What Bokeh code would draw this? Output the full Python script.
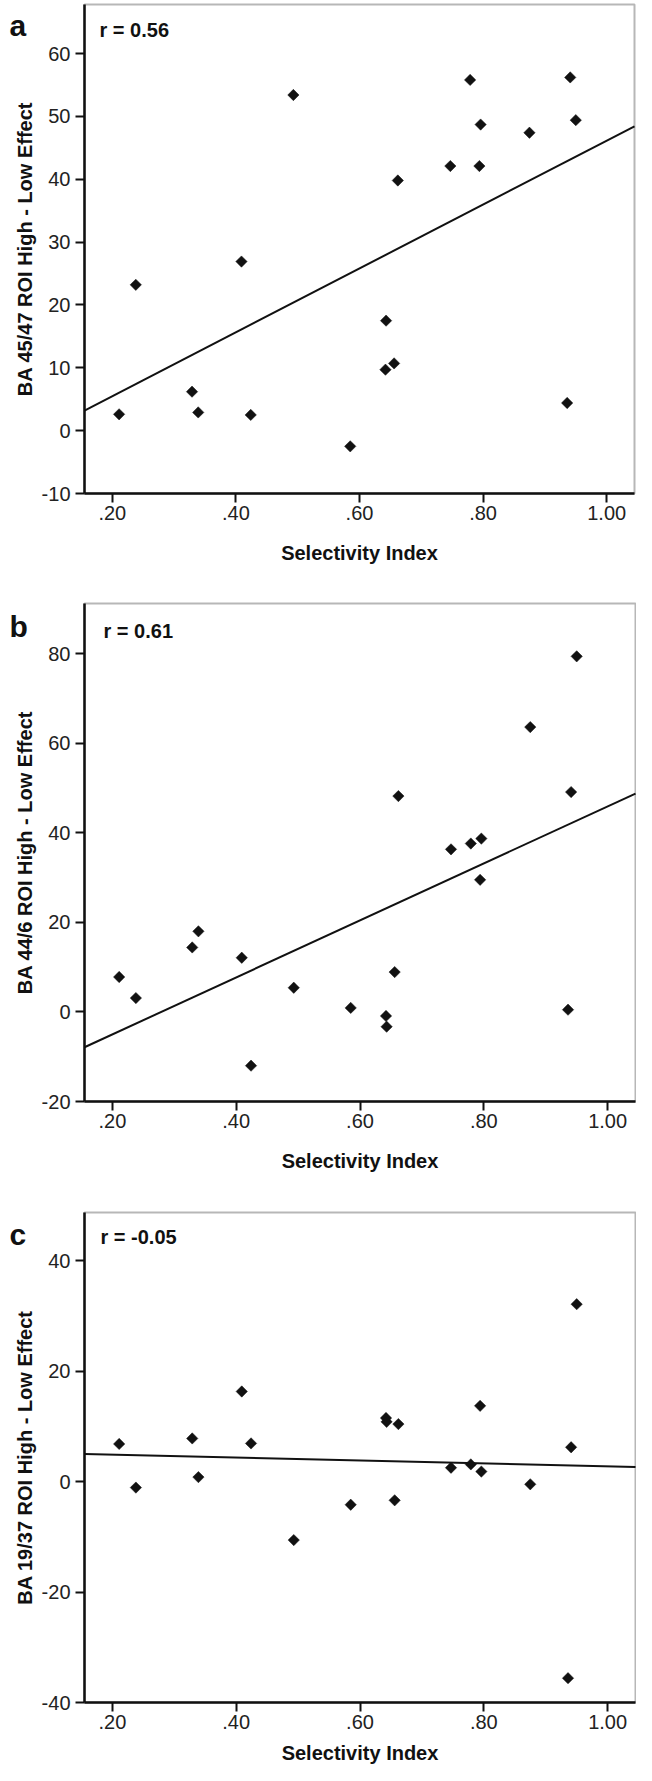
import numpy as np
from bokeh.plotting import figure
from bokeh.layouts import column
from bokeh.models import Label, FixedTicker, Range1d, BoxAnnotation
from bokeh.embed import file_html
from bokeh.resources import INLINE

# ---------------- data ----------------
sel_index = [0.211, 0.238, 0.329, 0.339, 0.409, 0.424, 0.493, 0.585, 0.642, 0.643,
             0.656, 0.662, 0.747, 0.779, 0.794, 0.796, 0.875, 0.936, 0.941, 0.950]
ba_45_47 = [2.6, 23.2, 6.2, 2.9, 26.9, 2.5, 53.4, -2.5, 9.7, 17.5,
            10.7, 39.8, 42.1, 55.8, 42.1, 48.7, 47.4, 4.4, 56.2, 49.4]
ba_44_6 = [7.8, 3.1, 14.4, 18.0, 12.1, -12.0, 5.4, 0.9, -0.9, -3.3,
           8.9, 48.2, 36.3, 37.6, 29.5, 38.7, 63.6, 0.5, 49.1, 79.4]
ba_19_37 = [6.8, -1.1, 7.8, 0.8, 16.3, 6.9, -10.6, -4.2, 11.5, 10.8,
            -3.4, 10.4, 2.5, 3.1, 13.7, 1.8, -0.5, -35.6, 6.2, 32.1]

panel_letters = ["a", "b", "c"]
r_labels = ["r = 0.56", "r = 0.61", "r = -0.05"]
y_titles = ["BA 45/47 ROI High - Low Effect",
            "BA 44/6 ROI High - Low Effect",
            "BA 19/37 ROI High - Low Effect"]
x_title = "Selectivity Index"
x_ticks = [0.2, 0.4, 0.6, 0.8, 1.0]
x_tick_labels = [".20", ".40", ".60", ".80", "1.00"]
y_ticks_a = [-10, 0, 10, 20, 30, 40, 50, 60]
y_ticks_b = [-20, 0, 20, 40, 60, 80]
y_ticks_c = [-40, -20, 0, 20, 40]
x_limits = (0.155, 1.045)
y_limits_a = (-10, 67.8)
y_limits_b = (-20, 91.2)
y_limits_c = (-40, 48.7)

INK = "#111111"
FONT = "Liberation Sans"
W = 636          # canvas width of every panel
FRAME_L = 84     # left edge of the drawn box, canvas px


def make_panel(ys, y_limits, y_ticks, letter, rtxt, ytitle,
               H, T, B, R, letter_dy, r_dx, r_dy, xtitle_dy):
    x0, x1 = x_limits
    y0, y1 = y_limits
    xpp = (x1 - x0) / (R - FRAME_L)
    ypp = (y1 - y0) / (B - T)
    xr = Range1d(x0 - FRAME_L * xpp, x1 + (W - R) * xpp)
    yr = Range1d(y0 - (H - B) * ypp, y1 + T * ypp)

    p = figure(width=W, height=H, output_backend="svg", toolbar_location=None,
               x_range=xr, y_range=yr,
               min_border_left=0, min_border_right=0, min_border_top=0, min_border_bottom=0)
    p.background_fill_color = "white"
    p.border_fill_color = "white"
    p.outline_line_color = None
    p.grid.visible = False

    # the plot box
    p.add_layout(BoxAnnotation(left=x0, right=x1, bottom=y0, top=y1,
                               fill_color=None, line_color=INK, line_width=2))

    for ax in (p.xaxis[0], p.yaxis[0]):
        ax.axis_line_color = INK
        ax.axis_line_width = 2.5
        ax.major_tick_line_color = INK
        ax.major_tick_line_width = 2
        ax.major_tick_out = 9
        ax.major_tick_in = 0
        ax.minor_tick_line_color = None
        ax.major_label_text_font = FONT
        ax.major_label_text_font_size = "20px"
        ax.major_label_text_color = "#222222"

    xa = p.xaxis[0]
    xa.fixed_location = y0
    xa.bounds = (x0, x1)
    xa.ticker = FixedTicker(ticks=x_ticks)
    xa.major_label_overrides = {t: l for t, l in zip(x_ticks, x_tick_labels)}
    xa.major_label_standoff = 3

    ya = p.yaxis[0]
    ya.fixed_location = x0
    ya.bounds = (y0, y1)
    ya.ticker = FixedTicker(ticks=y_ticks)
    ya.major_label_overrides = {t: str(t) for t in y_ticks}
    ya.major_label_standoff = 5

    # regression line computed from the data
    slope, intercept = np.polyfit(sel_index, ys, 1)
    xs_fit = np.array(x_limits)
    p.line(xs_fit, slope * xs_fit + intercept, line_color=INK, line_width=2)

    p.scatter(sel_index, ys, marker="square", angle=np.pi / 4, size=8,
              fill_color=INK, line_color=INK, line_width=0.5)

    # texts
    p.add_layout(Label(x=x0, y=y1, x_offset=r_dx, y_offset=r_dy,
                       text=rtxt, text_font=FONT, text_font_size="20px",
                       text_font_style="bold", text_color=INK, text_baseline="top"))
    p.add_layout(Label(x=x0, y=y1, x_offset=9 - FRAME_L, y_offset=letter_dy,
                       text=letter, text_font=FONT, text_font_size="30px",
                       text_font_style="bold", text_color=INK,
                       text_baseline="alphabetic"))
    p.add_layout(Label(x=(x0 + x1) / 2, y=y0, y_offset=xtitle_dy,
                       text=x_title, text_font=FONT, text_font_size="20px",
                       text_font_style="bold", text_color=INK,
                       text_align="center", text_baseline="middle"))
    p.add_layout(Label(x=x0, y=(y0 + y1) / 2, x_offset=24 - FRAME_L, angle=np.pi / 2,
                       text=ytitle, text_font=FONT, text_font_size="20px",
                       text_font_style="bold", text_color=INK,
                       text_align="center", text_baseline="alphabetic"))
    return p


pa = make_panel(ba_45_47, y_limits_a, y_ticks_a, panel_letters[0], r_labels[0], y_titles[0],
                578, 4, 493, 634, -21, 15, -14, -59)
pb = make_panel(ba_44_6, y_limits_b, y_ticks_b, panel_letters[1], r_labels[1], y_titles[1],
                610, 25, 523, 635, -23, 19, -16, -59)
pc = make_panel(ba_19_37, y_limits_c, y_ticks_c, panel_letters[2], r_labels[2], y_titles[2],
                577, 24, 514, 635, -22, 16, -13, -50)

layout = column(pa, pb, pc, spacing=0)
open("out.html", "w").write(file_html(layout, INLINE))
